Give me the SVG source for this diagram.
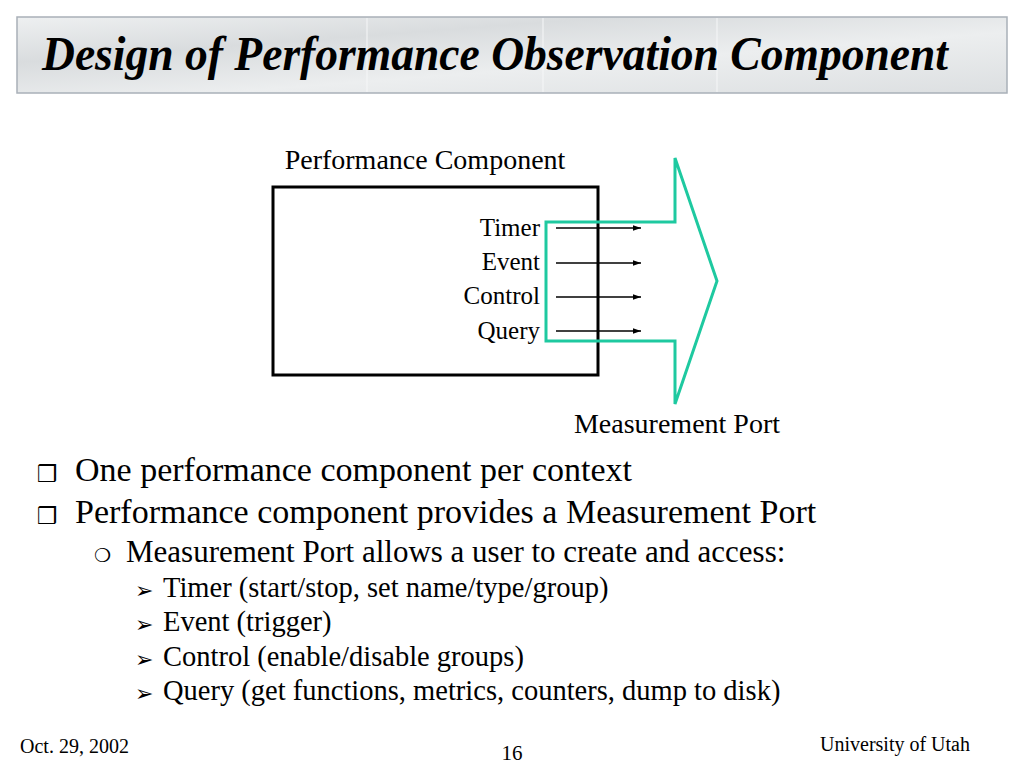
<svg xmlns="http://www.w3.org/2000/svg" width="1024" height="768" viewBox="0 0 1024 768">
<defs>
<linearGradient id="marble" x1="0" y1="0" x2="1" y2="1">
<stop offset="0" stop-color="#eef0f1"/>
<stop offset="0.3" stop-color="#d9dcde"/>
<stop offset="0.6" stop-color="#eceeef"/>
<stop offset="1" stop-color="#dcdfe1"/>
</linearGradient>
<marker id="ah" viewBox="0 0 10 10" refX="10" refY="5" markerWidth="8" markerHeight="8" markerUnits="userSpaceOnUse" orient="auto">
<path d="M0,1.5 L10,5 L0,8.5 z" fill="#000"/>
</marker>
<style>
.t{font-family:"Liberation Serif","Times New Roman",serif;fill:#000}
.b{font-family:"DejaVu Sans",sans-serif;fill:#000}
.arr{stroke:#000;stroke-width:1.3;fill:none;marker-end:url(#ah)}
</style>
</defs>
<rect width="1024" height="768" fill="#fff"/>
<g id="title">
<rect x="17" y="17" width="990" height="76" fill="url(#marble)" stroke="#a9b0b8" stroke-width="1.5"/>
<line x1="367" y1="18" x2="367" y2="92" stroke="#f6f7f8" stroke-width="1"/>
<line x1="543" y1="18" x2="543" y2="92" stroke="#f6f7f8" stroke-width="1"/>
<line x1="717" y1="18" x2="717" y2="92" stroke="#f6f7f8" stroke-width="1"/>
<text class="t" x="42" y="70" font-size="48" font-weight="bold" font-style="italic" textLength="906" lengthAdjust="spacingAndGlyphs">Design of Performance Observation Component</text>
</g>
<g id="performance-component">
<rect x="273" y="187" width="325" height="188" fill="none" stroke="#000" stroke-width="3"/>
<text class="t" x="425" y="169" font-size="28" text-anchor="middle">Performance Component</text>
<text class="t" x="540" y="236" font-size="25" text-anchor="end">Timer</text>
<text class="t" x="540" y="270" font-size="25" text-anchor="end">Event</text>
<text class="t" x="540" y="304" font-size="25" text-anchor="end">Control</text>
<text class="t" x="540" y="339" font-size="25" text-anchor="end">Query</text>
</g>
<g id="measurement-port">
<polygon points="546,222 675,222 675,158 717,281 675,404 675,341 546,341" fill="none" stroke="#1ec9a0" stroke-width="3"/>
<text class="t" x="677" y="433" font-size="28" text-anchor="middle">Measurement Port</text>
</g>
<g id="connectors">
<line class="arr" x1="556" y1="228" x2="641" y2="228"/>
<line class="arr" x1="556" y1="263" x2="641" y2="263"/>
<line class="arr" x1="556" y1="297" x2="641" y2="297"/>
<line class="arr" x1="556" y1="331" x2="641" y2="331"/>
</g>
<g id="bullets">
<text class="b" x="37" y="482" font-size="23">❒</text>
<text class="t" x="75" y="481" font-size="34">One performance component per context</text>
<text class="b" x="37" y="524" font-size="23">❒</text>
<text class="t" x="75" y="523" font-size="34">Performance component provides a Measurement Port</text>
<text class="b" x="94" y="562" font-size="19">❍</text>
<text class="t" x="126" y="562" font-size="31">Measurement Port allows a user to create and access:</text>
<text class="b" x="135" y="598" font-size="22">➢</text>
<text class="t" x="163" y="597" font-size="28.5">Timer (start/stop, set name/type/group)</text>
<text class="b" x="135" y="632" font-size="22">➢</text>
<text class="t" x="163" y="631" font-size="28.5">Event (trigger)</text>
<text class="b" x="135" y="667" font-size="22">➢</text>
<text class="t" x="163" y="666" font-size="28.5">Control (enable/disable groups)</text>
<text class="b" x="135" y="701" font-size="22">➢</text>
<text class="t" x="163" y="700" font-size="28.5">Query (get functions, metrics, counters, dump to disk)</text>
</g>
<g id="footer">
<text class="t" x="20" y="753" font-size="20">Oct. 29, 2002</text>
<text class="t" x="512" y="760" font-size="21" text-anchor="middle">16</text>
<text class="t" x="970" y="751" font-size="20" text-anchor="end">University of Utah</text>
</g>
</svg>
